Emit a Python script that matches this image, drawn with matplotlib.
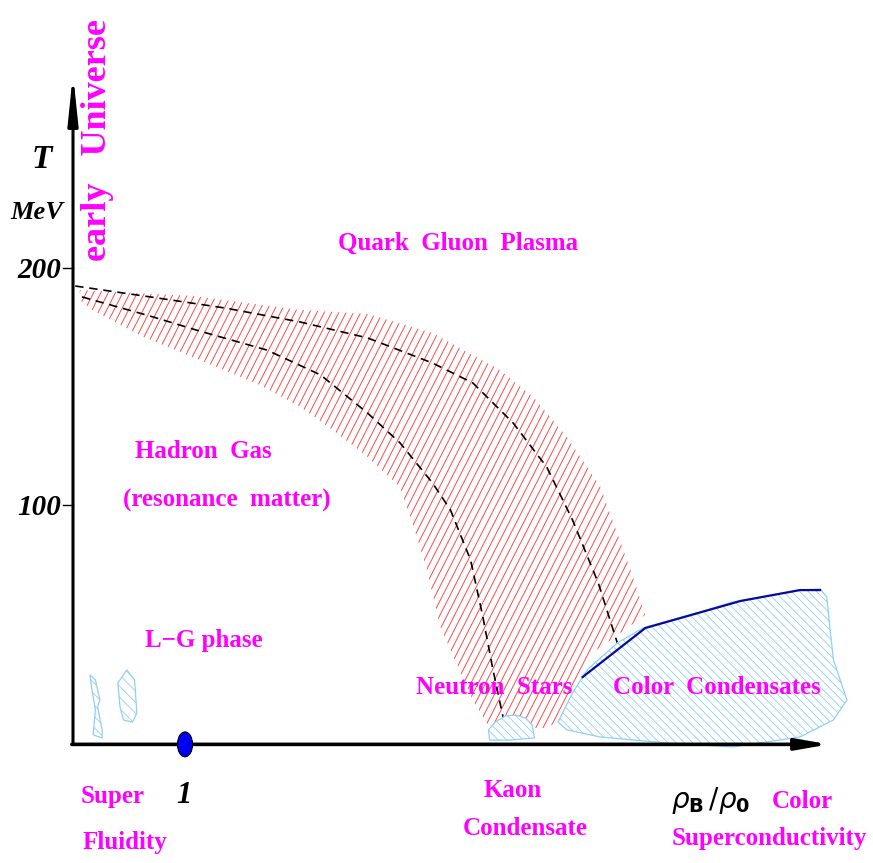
import numpy as np
import matplotlib.pyplot as plt
from matplotlib.patches import Polygon, Ellipse
from matplotlib.collections import LineCollection
from matplotlib.transforms import IdentityTransform

# --- sketch data: baryon density rho_B/rho_0 (x) and temperature T in MeV (y) ---

# crossover / transition band (upper and lower edge, red hatched)
band_upper_rho = [0.06, 1.07, 2.03, 2.63, 3.21, 3.81, 4.11, 4.41, 4.71, 5.00, 5.11,
                  4.64, 4.46, 4.35, 4.20]
band_upper_T = [190.7, 188.2, 182.3, 180.6, 172.6, 157.0, 145.6, 128.7, 107.6, 69.6, 53.6,
                37.6, 20.7, 8.4, 5.9]
band_lower_rho = [3.72, 3.57, 3.28, 3.16, 3.07, 2.92, 2.63, 2.32, 2.03, 1.67, 1.07, 0.63,
                  0.17, 0.06]
band_lower_T = [5.9, 17.7, 48.5, 72.6, 86.5, 107.6, 120.3, 131.6, 141.4, 150.6, 162.4, 170.9,
                182.3, 186.5]

# dashed phase boundaries
outer_rho = [0.02, 0.69, 1.36, 2.03, 2.63, 3.21, 3.57, 3.93, 4.23, 4.46, 4.69, 4.86]
outer_T = [192.4, 187.8, 183.1, 177.2, 170.5, 159.9, 151.5, 134.6, 116.0, 93.7, 67.1, 41.8]
inner_rho = [0.08, 0.69, 1.13, 1.73, 2.21, 2.63, 2.92, 3.21, 3.37, 3.55, 3.66, 3.75, 3.84]
inner_T = [187.8, 179.7, 173.4, 165.4, 154.9, 138.8, 126.2, 109.3, 97.9, 76.8, 52.7, 30.4, 10.5]

# color condensate region and its boundary
cc_rho = [4.33, 4.46, 4.59, 4.86, 5.09, 5.60, 5.89, 6.49, 6.67, 6.73, 6.76, 6.79, 6.91,
          6.79, 6.49, 5.89, 5.30, 4.71, 4.41]
cc_T = [8.4, 20.7, 30.4, 41.8, 48.1, 54.9, 59.1, 64.1, 64.6, 61.2, 47.3, 34.6, 17.7,
        9.3, 2.1, -2.1, -0.4, 2.1, 5.1]
cc_line_rho = [4.55, 5.11, 5.96, 6.49, 6.67]
cc_line_T = [27.4, 48.1, 59.5, 64.1, 64.1]

# kaon condensate blob
kaon_rho = [3.72, 3.71, 3.77, 3.86, 3.95, 4.04, 4.10, 4.12, 3.90]
kaon_T = [0.8, 5.1, 8.4, 11.0, 11.4, 10.1, 7.2, 1.7, 0.8]

# superfluidity blobs
sf1_rho = [0.15, 0.20, 0.24, 0.22, 0.26, 0.26, 0.18, 0.20, 0.17]
sf1_T = [28.3, 26.2, 17.7, 14.8, 5.1, 1.7, 3.0, 13.5, 21.9]
sf2_rho = [0.48, 0.55, 0.57, 0.53, 0.45, 0.42, 0.40]
sf2_T = [30.4, 26.2, 12.2, 8.4, 9.3, 14.8, 24.9]

# axes
x_end, T_end = 6.75, 282.0
T_ticks = [200, 100]
T_ticklabels = ['200', '100']
nuclear_density = 1.0

W, H, DPI = 873, 863, 100
X0_PX, Y0_PX, PX_PER_RHO, PX_PER_MEV = 73, 742, 112.0, 2.37

MAG = '#ff00ff'
SERIF = 'Liberation Serif'

fig = plt.figure(figsize=(W / DPI, H / DPI), dpi=DPI)
ax = fig.add_axes([0, 0, 1, 1])
ax.set_xlim(-X0_PX / PX_PER_RHO, (W - X0_PX) / PX_PER_RHO)
ax.set_ylim((Y0_PX - H) / PX_PER_MEV, Y0_PX / PX_PER_MEV)
ax.set_axis_off()


def hatch_lines(patch, angle, step, color, lw):
    # parallel lines in pixel space, clipped to the patch
    verts = patch.get_transform().transform(patch.get_xy())
    xmin, ymin = verts.min(0)
    xmax, ymax = verts.max(0)
    d = np.array([np.cos(np.radians(angle)), np.sin(np.radians(angle))])
    n = np.array([-d[1], d[0]])
    c = np.array([(xmin + xmax) / 2, (ymin + ymax) / 2])
    r = np.hypot(xmax - xmin, ymax - ymin) / 2 + step
    segs = [[c + o * n - r * d, c + o * n + r * d] for o in np.arange(-r, r, step)]
    lc = LineCollection(segs, colors=color, linewidths=lw, transform=IdentityTransform(),
                        zorder=patch.get_zorder() + 0.1)
    ax.add_collection(lc, autolim=False)
    lc.set_clip_path(patch)


# red band
band = Polygon(np.column_stack([band_upper_rho + band_lower_rho, band_upper_T + band_lower_T]),
               closed=True, facecolor='none', edgecolor='none', zorder=2)
ax.add_patch(band)
hatch_lines(band, 63, 6.5, '#ff4a4a', 0.7)

# dashed boundaries
ax.plot(outer_rho, outer_T, color='black', lw=1.2, dashes=(5, 3.5), zorder=4)
ax.plot(inner_rho, inner_T, color='black', lw=1.2, dashes=(5, 3.5), zorder=4)

# blue blobs
plt.rcParams['hatch.linewidth'] = 0.6
for rr, tt, h in [(cc_rho, cc_T, '\\\\\\\\'), (kaon_rho, kaon_T, '\\\\\\\\'),
                  (sf1_rho, sf1_T, '\\\\\\'), (sf2_rho, sf2_T, '\\\\\\')]:
    ax.add_patch(Polygon(np.column_stack([rr, tt]), closed=True, facecolor='white',
                         edgecolor='#8fd0f5', lw=0.9, hatch=h, zorder=5))
ax.plot(cc_line_rho, cc_line_T, color='#0a0a9a', lw=1.6, zorder=6)

# axes with arrows
ax.annotate('', xy=(0, T_end), xytext=(0, -1),
            arrowprops=dict(arrowstyle='-|>,head_length=2.4,head_width=0.25', lw=2.2,
                            color='black', mutation_scale=12, shrinkA=0, shrinkB=0), zorder=7)
ax.annotate('', xy=(x_end, -1), xytext=(-0.01, -1),
            arrowprops=dict(arrowstyle='-|>,head_length=1.6,head_width=0.28', lw=2.6,
                            color='black', mutation_scale=12, shrinkA=0, shrinkB=0), zorder=7)
for t, lab in zip(T_ticks, T_ticklabels):
    ax.plot([-0.09, 0], [t, t], color='black', lw=1.0, zorder=7)
    ax.text(-0.105, t - 1, lab, fontsize=21, family=SERIF, weight='bold', style='italic',
            ha='right', va='center')

ax.add_patch(Ellipse((nuclear_density, -1), 0.135, 10.5, facecolor='#0000ee',
                     edgecolor='black', lw=0.8, zorder=8))

# axis labels
ax.text(-0.28, 245.6, 'T', fontsize=24, family=SERIF, weight='bold', style='italic',
        ha='center', va='center')
ax.text(-0.32, 223.6, 'MeV', fontsize=19, family=SERIF, weight='bold', style='italic',
        ha='center', va='center')
ax.text(0.99, -22.4, '1', fontsize=22, family=SERIF, weight='bold', style='italic',
        ha='center', va='center')
ax.text(5.69, -24.5, r'$\rho_{\mathbf{B}}\,/\rho_{\mathbf{0}}$', fontsize=20,
        ha='center', va='center')

ax.text(0.22, 254, 'early   Universe', fontsize=26, family=SERIF, weight='bold', color=MAG,
        rotation=90, ha='center', va='center')

labels = [
    (3.44, 210.5, 'Quark  Gluon  Plasma'),
    (1.16, 122.4, 'Hadron  Gas'),
    (1.37, 102.1, '(resonance  matter)'),
    (1.17, 43.0, 'L\u2212G phase'),
    (3.76, 22.8, 'Neutron  Stars'),
    (5.75, 23.2, 'Color  Condensates'),
    (0.35, -23.2, 'Super'),
    (0.46, -42.6, 'Fluidity'),
    (3.93, -20.3, 'Kaon'),
    (4.04, -36.7, 'Condensate'),
    (6.51, -24.9, 'Color'),
    (6.22, -40.9, 'Superconductivity'),
]
for x, y, s in labels:
    ax.text(x, y, s, fontsize=18, family=SERIF, weight='bold', color=MAG,
            ha='center', va='center', zorder=9)

fig.savefig('out.png', dpi=DPI)
